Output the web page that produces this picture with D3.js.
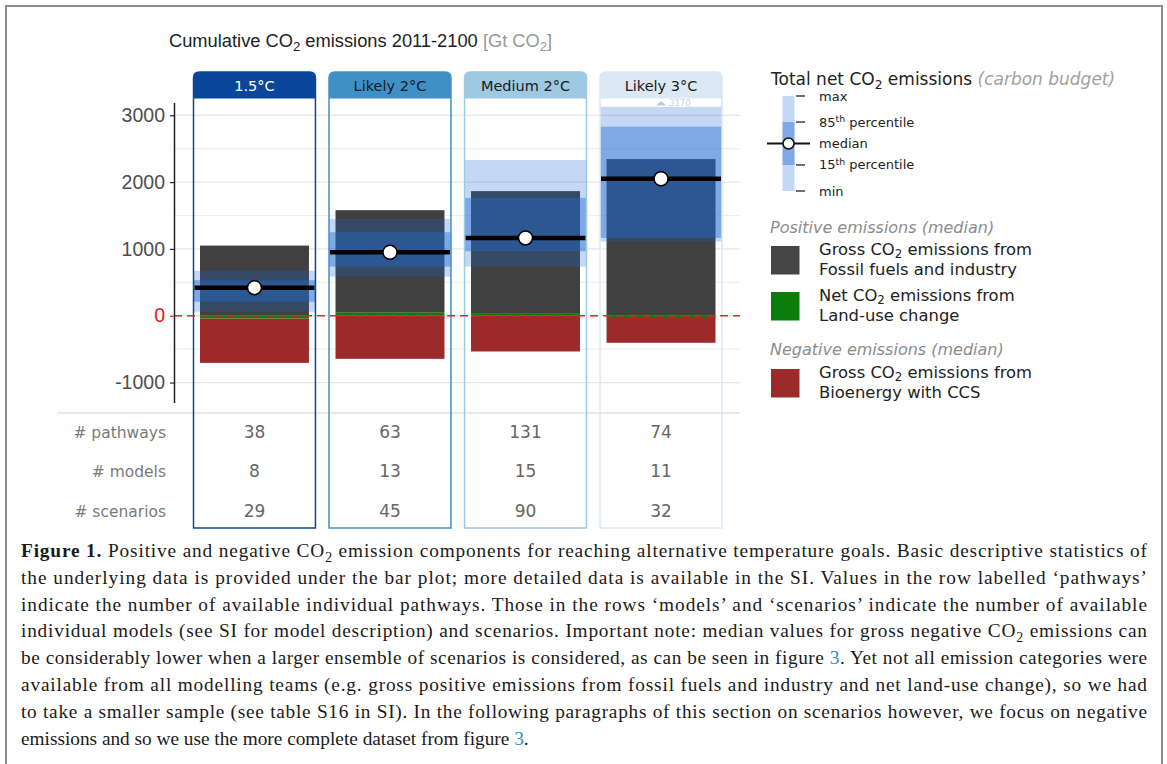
<!DOCTYPE html>
<html>
<head>
<meta charset="utf-8">
<script src="https://cdn.jsdelivr.net/npm/d3@7"></script>
<style>
  body { margin: 0; background: #fff; }
  svg { display: block; }
  text { font-family: 'DejaVu Sans', Verdana, sans-serif; }
  .arial { font-family: 'Liberation Sans', Arial, sans-serif; }
  .serif { font-family: 'Liberation Serif', 'Times New Roman', serif; }
</style>
</head>
<body>
<svg id="chart" width="1167" height="764"></svg>
<script>
//

const categories = ['1.5°C', 'Likely 2°C', 'Medium 2°C', 'Likely 3°C']

// median components, Gt CO2
const fossilIndustry = [1050, 1535, 1825, 2335]
const landUse = [-40, 45, 40, 10]
const beccs = [-665, -645, -535, -405]

// total net emissions (carbon budget)
const budgetMin = [60, 585, 735, 1110]
const budgetP15 = [210, 735, 965, 1165]
const budgetMedian = [420, 950, 1165, 2050]
const budgetP85 = [534, 1250, 1765, 2830]
const budgetMax = [674, 1450, 2330, 3170]

const pathways = [38, 63, 131, 74]
const models = [8, 13, 15, 11]
const scenarios = [29, 45, 90, 32]
const statLabels = ['# pathways', '# models', '# scenarios']

const yTicks = [-1000, 0, 1000, 2000, 3000]
const yMinorTicks = [-500, 500, 1500, 2500]

//

const panelColors = ['#0a479b', '#4090c8', '#9dc9e3', '#dce9f5']
const headerText = ['#fff', '#1a1a1a', '#1a1a1a', '#1a1a1a']
const bandBlue = '#206ad0'
const zeroRed = '#e8202a'

const svg = d3.select('#chart')

const x = d3.scaleBand()
  .domain(categories)
  .range([193.5, 722])
  .paddingInner(0.1)

const y = d3.scaleLinear()
  .domain([-1300, 3190])
  .range([402.6, 102.6])

const bw = x.bandwidth()
const inset = 6.5
const panelTop = 72
const headerBottom = 98.5
const panelBottom = 528
const plotTop = 106.8

const rows = categories.map((c, i) => ({
  cat: c,
  i,
  fossil: fossilIndustry[i],
  land: landUse[i],
  beccs: beccs[i],
  min: budgetMin[i],
  p15: budgetP15[i],
  median: budgetMedian[i],
  p85: budgetP85[i],
  max: budgetMax[i]
}))

function rich (sel, parts, size) {
  let shift = 0
  parts.forEach((p) => {
    const target = p.sub ? size * 0.24 : p.sup ? -size * 0.38 : 0
    const t = sel.append('tspan').text(p.t).attr('dy', target - shift)
    shift = target
    if (p.sub || p.sup) t.attr('font-size', size * 0.72)
    if (p.fill) t.attr('fill', p.fill)
    if (p.italic) t.attr('font-style', 'italic')
    if (p.bold) t.attr('font-weight', 'bold')
  })
  return sel
}

function topRounded (x0, y0, w, h, r) {
  return `M${x0},${y0 + h}V${y0 + r}Q${x0},${y0} ${x0 + r},${y0}H${x0 + w - r}Q${x0 + w},${y0} ${x0 + w},${y0 + r}V${y0 + h}`
}

// figure frame
svg.append('rect')
  .attr('x', 6).attr('y', 6)
  .attr('width', 1156).attr('height', 800)
  .attr('fill', 'none')
  .attr('stroke', '#8c8c8c')
  .attr('stroke-width', 2)

// title
rich(svg.append('text')
  .attr('class', 'arial')
  .attr('x', 169).attr('y', 47)
  .attr('font-size', 18.3)
  .attr('fill', '#222'), [
  { t: 'Cumulative CO' }, { t: '2', sub: true }, { t: ' emissions 2011-2100 ' },
  { t: '[Gt CO', fill: '#999' }, { t: '2', sub: true, fill: '#999' }, { t: ']', fill: '#999' }
], 18.3)

// grid
svg.append('g')
  .selectAll('line')
  .data(yMinorTicks.concat(yTicks))
  .join('line')
  .attr('x1', 174).attr('x2', 740)
  .attr('y1', (d) => y(d)).attr('y2', (d) => y(d))
  .attr('stroke', (d) => yTicks.includes(d) ? '#e6e6e6' : '#efefef')
  .attr('stroke-width', 1.2)

svg.append('line')
  .attr('x1', 57).attr('x2', 740)
  .attr('y1', 413).attr('y2', 413)
  .attr('stroke', '#e2e2e2')
  .attr('stroke-width', 1.5)

// headers
const panels = svg.append('g')
  .selectAll('g')
  .data(rows)
  .join('g')
  .attr('transform', (d) => `translate(${x(d.cat)},0)`)

panels.append('path')
  .attr('d', topRounded(0, panelTop, bw, headerBottom - panelTop, 6) + 'Z')
  .attr('fill', (d) => panelColors[d.i])

panels.append('text')
  .attr('x', bw / 2).attr('y', 91)
  .attr('text-anchor', 'middle')
  .attr('font-size', 14.5)
  .attr('fill', (d) => headerText[d.i])
  .text((d) => d.cat)

// stacked median components
const landTop = (d) => Math.max(d.land, 0)
const landBottom = (d) => Math.min(d.land, 0)

panels.append('rect')
  .attr('x', inset).attr('width', bw - 2 * inset)
  .attr('y', (d) => y(landTop(d) + d.fossil))
  .attr('height', (d) => y(landTop(d)) - y(landTop(d) + d.fossil))
  .attr('fill', '#404040')

panels.append('rect')
  .attr('x', inset).attr('width', bw - 2 * inset)
  .attr('y', (d) => y(landBottom(d)))
  .attr('height', (d) => y(landBottom(d) + d.beccs) - y(landBottom(d)))
  .attr('fill', '#9d2a2b')

panels.append('rect')
  .attr('x', inset).attr('width', bw - 2 * inset)
  .attr('y', (d) => y(landTop(d)))
  .attr('height', (d) => Math.max(y(landBottom(d)) - y(landTop(d)), 2.5))
  .attr('fill', '#0b7d0b')

// carbon budget ranges
panels.append('rect')
  .attr('x', 0).attr('width', bw)
  .attr('y', (d) => y(d.max))
  .attr('height', (d) => y(d.min) - y(d.max))
  .attr('fill', bandBlue)
  .attr('fill-opacity', 0.26)

panels.append('rect')
  .attr('x', 0).attr('width', bw)
  .attr('y', (d) => y(d.p85))
  .attr('height', (d) => y(d.p15) - y(d.p85))
  .attr('fill', bandBlue)
  .attr('fill-opacity', 0.42)

// zero line
svg.append('line')
  .attr('x1', 174).attr('x2', 740)
  .attr('y1', y(0)).attr('y2', y(0))
  .attr('stroke', zeroRed)
  .attr('stroke-width', 1.5)
  .attr('stroke-dasharray', '8,5')

// medians
panels.append('line')
  .attr('x1', 1).attr('x2', bw - 1)
  .attr('y1', (d) => y(d.median)).attr('y2', (d) => y(d.median))
  .attr('stroke', '#000')
  .attr('stroke-width', 4.5)

panels.append('circle')
  .attr('cx', bw / 2)
  .attr('cy', (d) => y(d.median))
  .attr('r', 7)
  .attr('fill', '#fff')
  .attr('stroke', '#000')
  .attr('stroke-width', 1.5)

// off-scale maximum
const clipped = panels.filter((d) => d.max > y.invert(plotTop))

clipped.append('rect')
  .attr('x', 1).attr('width', bw - 2)
  .attr('y', headerBottom + 0.5).attr('height', plotTop - headerBottom - 0.5)
  .attr('fill', '#fff')

clipped.append('path')
  .attr('d', `M${bw / 2 - 5},105.5L${bw / 2},101L${bw / 2 + 5},105.5Z`)
  .attr('fill', '#b5cbe8')

clipped.append('text')
  .attr('x', bw / 2 + 8).attr('y', 106)
  .attr('font-size', 8.5)
  .attr('fill', '#c2d4ec')
  .text((d) => d.max)

// panel outlines
panels.append('path')
  .attr('d', topRounded(0, panelTop, bw, panelBottom - panelTop, 6) + 'Z')
  .attr('fill', 'none')
  .attr('stroke', (d) => panelColors[d.i])
  .attr('stroke-width', 1.5)

// y axis
const yAxis = d3.axisLeft(y)
  .tickValues(yTicks)
  .tickSize(4)
  .tickSizeOuter(0)
  .tickPadding(5)
  .tickFormat((d) => String(d))

const gY = svg.append('g')
  .attr('transform', 'translate(174,0)')
  .call(yAxis)

gY.select('.domain').attr('stroke', '#222').attr('stroke-width', 1.5)
gY.selectAll('.tick line')
  .attr('stroke', (d) => d === 0 ? zeroRed : '#222')
  .attr('stroke-width', 1.2)
gY.selectAll('.tick text')
  .attr('class', 'arial')
  .attr('font-size', 19.5)
  .attr('fill', (d) => d === 0 ? '#f0141c' : '#4d4d4d')

// descriptive statistics
const statValues = [pathways, models, scenarios]
const statY = [438, 477, 517]

svg.append('g')
  .selectAll('text')
  .data(statLabels)
  .join('text')
  .attr('x', 166)
  .attr('y', (d, j) => statY[j])
  .attr('text-anchor', 'end')
  .attr('font-size', 15.5)
  .attr('fill', '#7a7a7a')
  .text((d) => d)

statValues.forEach((vals, j) => {
  panels.append('text')
    .attr('x', bw / 2)
    .attr('y', statY[j])
    .attr('text-anchor', 'middle')
    .attr('font-size', 17)
    .attr('fill', '#666')
    .text((d) => vals[d.i])
})

// legend: carbon budget
const lg = svg.append('g')

rich(lg.append('text')
  .attr('x', 771).attr('y', 85)
  .attr('font-size', 17)
  .attr('fill', '#222'), [
  { t: 'Total net CO' }, { t: '2', sub: true }, { t: ' emissions ' },
  { t: '(carbon budget)', italic: true, fill: '#a0a0a0' }
], 17)

const ly = d3.scaleLinear().domain([0, 1]).range([191, 96])
const legendLevels = [
  { v: 1, label: [{ t: 'max' }] },
  { v: 0.726, label: [{ t: '85' }, { t: 'th', sup: true }, { t: ' percentile' }] },
  { v: 0.5, label: [{ t: 'median' }] },
  { v: 0.274, label: [{ t: '15' }, { t: 'th', sup: true }, { t: ' percentile' }] },
  { v: 0, label: [{ t: 'min' }] }
]

lg.append('rect')
  .attr('x', 782.5).attr('width', 12)
  .attr('y', ly(1)).attr('height', ly(0) - ly(1))
  .attr('fill', bandBlue).attr('fill-opacity', 0.26)

lg.append('rect')
  .attr('x', 782.5).attr('width', 12)
  .attr('y', ly(0.726)).attr('height', ly(0.274) - ly(0.726))
  .attr('fill', bandBlue).attr('fill-opacity', 0.42)

legendLevels.filter((d) => d.v !== 0.5).forEach((d) => {
  lg.append('line')
    .attr('x1', 796).attr('x2', 805)
    .attr('y1', ly(d.v)).attr('y2', ly(d.v))
    .attr('stroke', '#222').attr('stroke-width', 1.3)
})

lg.append('line')
  .attr('x1', 767).attr('x2', 810)
  .attr('y1', ly(0.5)).attr('y2', ly(0.5))
  .attr('stroke', '#111').attr('stroke-width', 2)

lg.append('circle')
  .attr('cx', 788.5).attr('cy', ly(0.5)).attr('r', 5.5)
  .attr('fill', '#fff').attr('stroke', '#111').attr('stroke-width', 1.5)

legendLevels.forEach((d) => {
  rich(lg.append('text')
    .attr('x', 819).attr('y', ly(d.v) + 4.5)
    .attr('font-size', 13)
    .attr('fill', '#222'), d.label, 13)
})

// legend: components
const sections = [
  { t: 'Positive emissions (median)', y: 233 },
  { t: 'Negative emissions (median)', y: 355 }
]

lg.selectAll('.section')
  .data(sections)
  .join('text')
  .attr('class', 'section')
  .attr('x', 770).attr('y', (d) => d.y)
  .attr('font-size', 16)
  .attr('font-style', 'italic')
  .attr('fill', '#8c8c8c')
  .text((d) => d.t)

const swatches = [
  { fill: '#454545', y: 246, lines: [[{ t: 'Gross CO' }, { t: '2', sub: true }, { t: ' emissions from' }], [{ t: 'Fossil fuels and industry' }]] },
  { fill: '#0b7d0b', y: 292, lines: [[{ t: 'Net CO' }, { t: '2', sub: true }, { t: ' emissions from' }], [{ t: 'Land-use change' }]] },
  { fill: '#9d2a2b', y: 369, lines: [[{ t: 'Gross CO' }, { t: '2', sub: true }, { t: ' emissions from' }], [{ t: 'Bioenergy with CCS' }]] }
]

swatches.forEach((s) => {
  lg.append('rect')
    .attr('x', 771).attr('y', s.y)
    .attr('width', 28.5).attr('height', 28.5)
    .attr('fill', s.fill)
  s.lines.forEach((line, k) => {
    rich(lg.append('text')
      .attr('x', 819).attr('y', s.y + 8.5 + k * 20.5)
      .attr('font-size', 16.4)
      .attr('fill', '#222'), line, 16.4)
  })
})

// caption
const linkBlue = '#2a8fc0'
const captionLines = [
  [{ t: 'Figure 1.', bold: true }, { t: ' Positive and negative CO' }, { t: '2', sub: true }, { t: ' emission components for reaching alternative temperature goals. Basic descriptive statistics of' }],
  [{ t: 'the underlying data is provided under the bar plot; more detailed data is available in the SI. Values in the row labelled \u2018pathways\u2019' }],
  [{ t: 'indicate the number of available individual pathways. Those in the rows \u2018models\u2019 and \u2018scenarios\u2019 indicate the number of available' }],
  [{ t: 'individual models (see SI for model description) and scenarios. Important note: median values for gross negative CO' }, { t: '2', sub: true }, { t: ' emissions can' }],
  [{ t: 'be considerably lower when a larger ensemble of scenarios is considered, as can be seen in figure ' }, { t: '3', fill: linkBlue }, { t: '. Yet not all emission categories were' }],
  [{ t: 'available from all modelling teams (e.g. gross positive emissions from fossil fuels and industry and net land-use change), so we had' }],
  [{ t: 'to take a smaller sample (see table S16 in SI). In the following paragraphs of this section on scenarios however, we focus on negative' }],
  [{ t: 'emissions and so we use the more complete dataset from figure ' }, { t: '3', fill: linkBlue }, { t: '.' }]
]

captionLines.forEach((parts, k) => {
  const t = svg.append('text')
    .attr('class', 'serif')
    .attr('x', 21)
    .attr('y', 557 + k * 26.8)
    .attr('font-size', 19.3)
    .attr('fill', '#1a1a1a')
  if (k < captionLines.length - 1) {
    t.attr('textLength', 1126).attr('lengthAdjust', 'spacing')
  }
  rich(t, parts, 19.3)
})

//
</script>
</body>
</html>
